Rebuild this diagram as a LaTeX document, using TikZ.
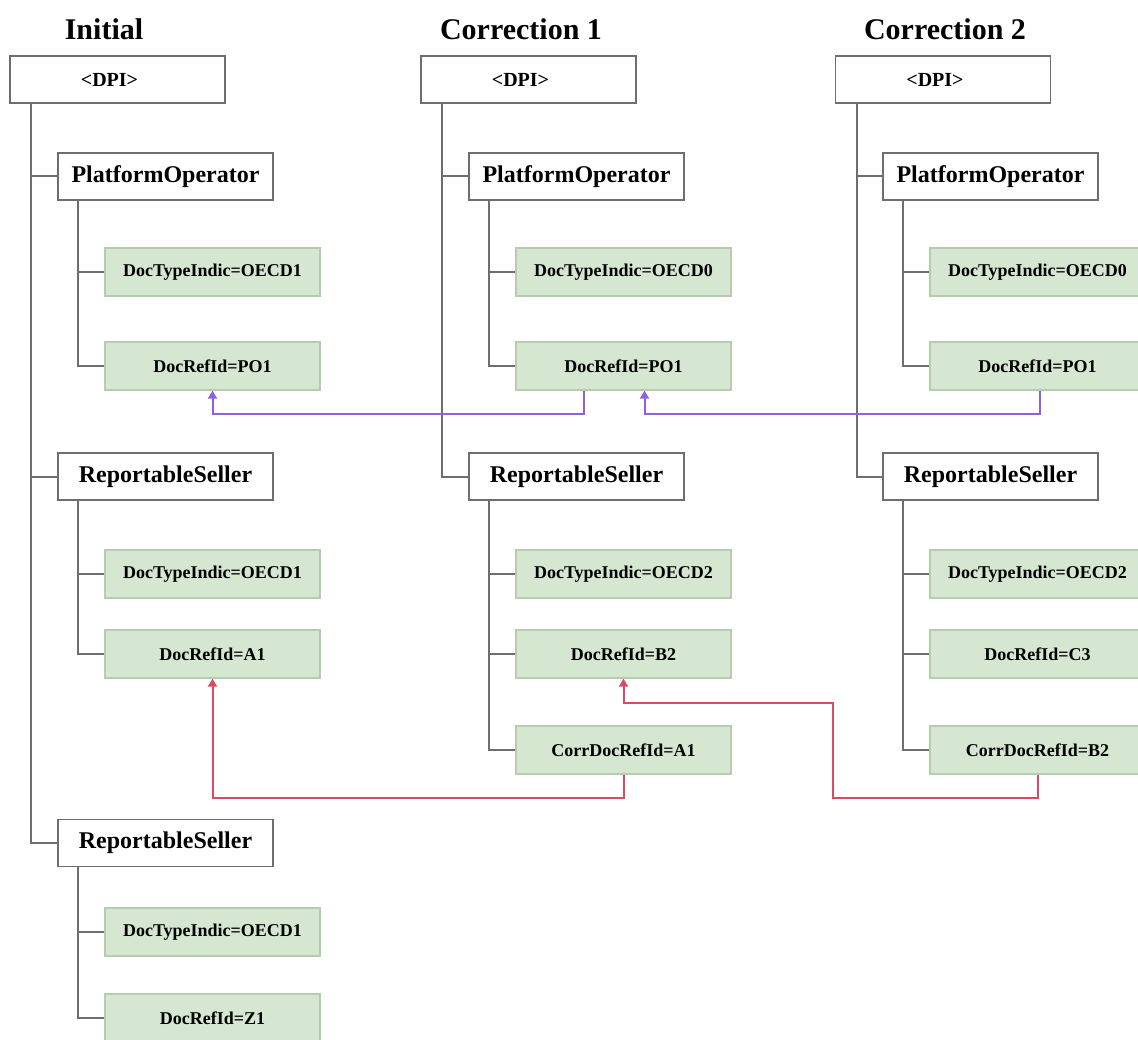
\documentclass[tikz,border=0pt]{standalone}
\usepackage{fontspec}
\setmainfont{Liberation Serif}
\usetikzlibrary{arrows.meta}
\definecolor{trait}{HTML}{6E6E6E}
\definecolor{vertf}{HTML}{D5E6D1}
\definecolor{vertb}{HTML}{B5CCAF}
\definecolor{liencorr}{HTML}{8C62E0}
\definecolor{lienrouge}{HTML}{D84A66}

\begin{document}
\begin{tikzpicture}[
  x=1pt, y=-1pt,
  titre/.style={font=\bfseries\fontsize{30}{34}\selectfont},
  boite/.style={draw=trait, line width=1.3pt, fill=white, minimum width=215pt,
                minimum height=47pt, inner sep=0pt,
                font=\bfseries\fontsize{24}{28}\selectfont},
  racine/.style={boite, font=\bfseries\fontsize{20}{24}\selectfont,
                 execute at end node={\hspace{16pt}}},
  champ/.style={draw=vertb, line width=1.3pt, fill=vertf, minimum width=215pt,
                minimum height=48pt, inner sep=0pt,
                font=\bfseries\fontsize{18}{22}\selectfont},
  tronc/.style={trait, line width=2pt},
  renvoi/.style={-{Triangle[length=8pt,width=9pt]}, line width=2pt},
]
\useasboundingbox (0,0) rectangle (1138,1040);
\clip (0,0) rectangle (1138,1040);
% ---- premier envoi
\node[titre] (t1) at (104,29) {Initial};
\node[racine] (dpi1) at (117.5,79.5) {<DPI>};
\node[boite] (po1) at (165.5,176.5) {PlatformOperator};
\node[champ] (dti1) at (212.5,272) {DocTypeIndic=OECD1};
\node[champ] (dri1) at (212.5,366) {DocRefId=PO1};
\node[boite] (rs1) at (165.5,476.5) {ReportableSeller};
\node[champ] (dtia1) at (212.5,574) {DocTypeIndic=OECD1};
\node[champ] (dria1) at (212.5,654) {DocRefId=A1};
\node[boite] (rsb1) at (165.5,843) {ReportableSeller};
\node[champ] (dtib1) at (212.5,932) {DocTypeIndic=OECD1};
\node[champ] (drib1) at (212.5,1018) {DocRefId=Z1};
% ---- premiere correction
\node[titre] (t2) at (521,29) {Correction 1};
\node[racine] (dpi2) at (528.5,79.5) {<DPI>};
\node[boite] (po2) at (576.5,176.5) {PlatformOperator};
\node[champ] (dti2) at (623.5,272) {DocTypeIndic=OECD0};
\node[champ] (dri2) at (623.5,366) {DocRefId=PO1};
\node[boite] (rs2) at (576.5,476.5) {ReportableSeller};
\node[champ] (dtia2) at (623.5,574) {DocTypeIndic=OECD2};
\node[champ] (dria2) at (623.5,654) {DocRefId=B2};
\node[champ] (corr2) at (623.5,750) {CorrDocRefId=A1};
% ---- seconde correction
\node[titre] (t3) at (945,29) {Correction 2};
\node[racine] (dpi3) at (943,79.5) {<DPI>};
\node[boite] (po3) at (990.5,176.5) {PlatformOperator};
\node[champ] (dti3) at (1037.5,272) {DocTypeIndic=OECD0};
\node[champ] (dri3) at (1037.5,366) {DocRefId=PO1};
\node[boite] (rs3) at (990.5,476.5) {ReportableSeller};
\node[champ] (dtia3) at (1037.5,574) {DocTypeIndic=OECD2};
\node[champ] (dria3) at (1037.5,654) {DocRefId=C3};
\node[champ] (corr3) at (1037.5,750) {CorrDocRefId=B2};
% ---- arborescence
\draw[tronc] ([xshift=22pt]dpi1.south west) |- (po1.west);
\draw[tronc] ([xshift=22pt]dpi1.south west) |- (rs1.west);
\draw[tronc] ([xshift=22pt]dpi1.south west) |- (rsb1.west);
\draw[tronc] ([xshift=21pt]po1.south west) |- (dti1.west);
\draw[tronc] ([xshift=21pt]po1.south west) |- (dri1.west);
\draw[tronc] ([xshift=21pt]rs1.south west) |- (dtia1.west);
\draw[tronc] ([xshift=21pt]rs1.south west) |- (dria1.west);
\draw[tronc] ([xshift=21pt]rsb1.south west) |- (dtib1.west);
\draw[tronc] ([xshift=21pt]rsb1.south west) |- (drib1.west);
\draw[tronc] ([xshift=22pt]dpi2.south west) |- (po2.west);
\draw[tronc] ([xshift=22pt]dpi2.south west) |- (rs2.west);
\draw[tronc] ([xshift=21pt]po2.south west) |- (dti2.west);
\draw[tronc] ([xshift=21pt]po2.south west) |- (dri2.west);
\draw[tronc] ([xshift=21pt]rs2.south west) |- (dtia2.west);
\draw[tronc] ([xshift=21pt]rs2.south west) |- (dria2.west);
\draw[tronc] ([xshift=21pt]rs2.south west) |- (corr2.west);
\draw[tronc] ([xshift=22pt]dpi3.south west) |- (po3.west);
\draw[tronc] ([xshift=22pt]dpi3.south west) |- (rs3.west);
\draw[tronc] ([xshift=21pt]po3.south west) |- (dti3.west);
\draw[tronc] ([xshift=21pt]po3.south west) |- (dri3.west);
\draw[tronc] ([xshift=21pt]rs3.south west) |- (dtia3.west);
\draw[tronc] ([xshift=21pt]rs3.south west) |- (dria3.west);
\draw[tronc] ([xshift=21pt]rs3.south west) |- (corr3.west);
% ---- renvois entre envois
\draw[renvoi, liencorr] ([xshift=-40pt]dri2.south) -- ++(0,23) -| (dri1.south);
\draw[renvoi, liencorr] ([xshift=2pt]dri3.south) -- ++(0,23) -| ([xshift=21pt]dri2.south);
\draw[renvoi, lienrouge] (corr2.south) -- ++(0,23) -| (dria1.south);
\draw[renvoi, lienrouge] (corr3.south) -- ++(0,23) -- ++(-204.5,0) -- ++(0,-95)
  -| (dria2.south);
\end{tikzpicture}
\end{document}
